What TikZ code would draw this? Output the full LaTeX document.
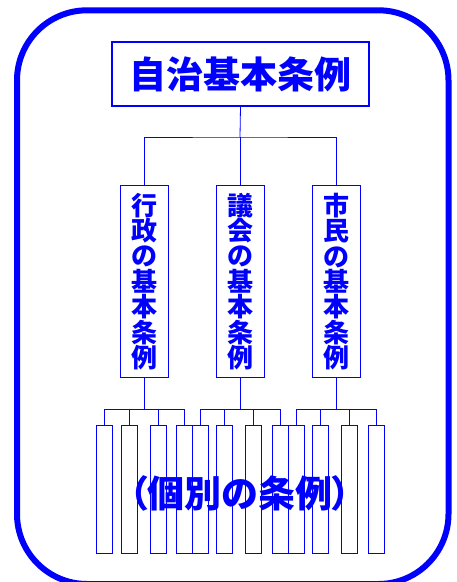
\documentclass[tikz,border=0pt]{standalone}
\usepackage{fontspec}
\newfontfamily\jp{Noto Sans CJK JP}
\newfontfamily\jpp{Noto Sans CJK JP}[RawFeature=+palt]
\definecolor{pureblue}{RGB}{0,0,255}
\begin{document}
\begin{tikzpicture}[x=1pt,y=-1pt,
  conn/.style={draw=pureblue,line width=0.8pt},
  titlebox/.style={draw=pureblue,line width=1.3pt,minimum width=257pt,minimum height=64pt,inner sep=0pt,text=pureblue,font=\jp\bfseries\fontsize{37}{40}\selectfont},
  midbox/.style={draw=pureblue,line width=1pt,minimum width=48pt,minimum height=192pt,inner sep=0pt,text=pureblue,align=center,font=\jp\bfseries\fontsize{26}{25.4}\selectfont},
  smallbox/.style={draw=pureblue,line width=0.8pt,minimum width=16pt,minimum height=128pt,inner sep=0pt},
  bigtext/.style={text=pureblue,inner sep=0pt,font=\jpp\bfseries\fontsize{37}{40}\selectfont}]
\useasboundingbox (0,0) rectangle (456,582);
\clip (0,0) rectangle (456,582);
\draw[pureblue,line width=6pt,rounded corners=70pt] (17,10.3) rectangle (448.5,584);
\node[titlebox] (t) at (240.5,74) {自治基本条例};
\node[midbox] (b1) at (144.5,281.5) {行\\政\\の\\基\\本\\条\\例};
\node[midbox] (b2) at (240,281.5) {議\\会\\の\\基\\本\\条\\例};
\node[midbox] (b3) at (336,281.5) {市\\民\\の\\基\\本\\条\\例};
\coordinate (bus) at (240,137);
\draw[conn] (t.south) -- (bus);
\draw[conn] (b1.north) |- (bus) -| (b3.north);
\draw[conn] (b2.north) -- (bus);
\foreach \g/\cx in {1/144.5,2/240,3/336}{
  \node[smallbox] (s\g a) at (\cx-40,489) {};
  \node[smallbox] (s\g b) at (\cx-15.5,489) {};
  \node[smallbox] (s\g c) at (\cx+13.5,489) {};
  \node[smallbox] (s\g d) at (\cx+40,489) {};
  \coordinate (g\g) at (\cx,409.5);
  \draw[conn] (b\g.south) -- (g\g);
  \draw[conn] (s\g a.north) |- (g\g) -| (s\g d.north);
  \draw[conn] (s\g b.north) |- (g\g);
  \draw[conn] (s\g c.north) |- (g\g);
}
\node[bigtext] (ind) at (240,493) {（個別の条例）};
\end{tikzpicture}
\end{document}
